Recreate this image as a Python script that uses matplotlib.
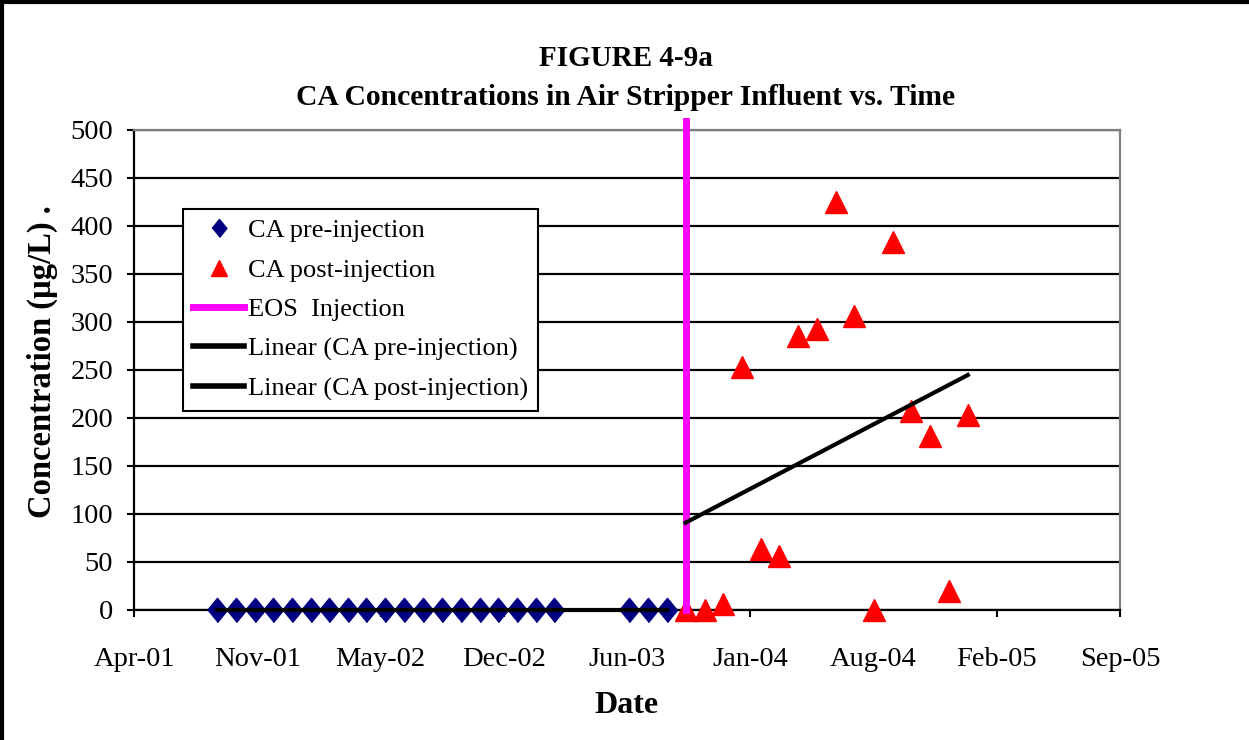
import matplotlib
matplotlib.use('Agg')
import matplotlib.pyplot as plt
import matplotlib.dates as mdates
from matplotlib.lines import Line2D
import numpy as np
import pandas as pd

plt.rcParams['font.family'] = ['Liberation Serif', 'DejaVu Serif']

# CA pre-injection samples (all non-detect)
pre_dates = ['2001-09-01', '2001-10-01', '2001-11-01', '2001-12-01',
             '2002-01-01', '2002-02-01', '2002-03-01', '2002-04-01',
             '2002-05-01', '2002-06-01', '2002-07-01', '2002-08-01',
             '2002-09-01', '2002-10-01', '2002-11-01', '2002-12-01',
             '2003-01-01', '2003-02-01', '2003-03-01',
             '2003-07-01', '2003-08-01', '2003-09-01']
pre_values = [0] * 22

# CA post-injection samples
post_dates = ['2003-10-01', '2003-11-01', '2003-12-01', '2004-01-01',
              '2004-02-01', '2004-03-01', '2004-04-01', '2004-05-01',
              '2004-06-01', '2004-07-01', '2004-08-01', '2004-09-01',
              '2004-10-01', '2004-11-01', '2004-12-01', '2005-01-01']
post_values = [0, 0, 6, 253, 63, 56, 285, 292, 425, 306, 0, 383, 207, 181, 20, 203]

eos_date = '2003-10-01'
eos_values = [0, 509]

x_start = '2001-04-19'   # excel 37000
tick_step_days = 200
n_ticks = 9
y_ticks = [0, 50, 100, 150, 200, 250, 300, 350, 400, 450, 500]

DIAMOND = [(-0.82, 0), (0, 1), (0.82, 0), (0, -1)]

pre_x = mdates.date2num(pd.to_datetime(pre_dates))
post_x = mdates.date2num(pd.to_datetime(post_dates))
eos_x = mdates.date2num(pd.to_datetime(eos_date))
x0 = mdates.date2num(pd.to_datetime(x_start))
xticks = x0 + np.arange(n_ticks) * tick_step_days

fig = plt.figure(figsize=(12.49, 7.4), dpi=100)
ax = fig.add_axes([0.10729, 0.17608, 0.78943, 0.64865])

# linear trendlines
p_pre = np.polyfit(pre_x, pre_values, 1)
p_post = np.polyfit(post_x, post_values, 1)
pre_fit_x = np.array([pre_x[0], pre_x[-1]])
post_fit_x = np.array([post_x[0], post_x[-1]])

ax.plot(pre_x, pre_values, linestyle='none', marker=DIAMOND,
        markersize=17.5, color='#000080', zorder=3, clip_on=False)
ax.plot(post_x, post_values, linestyle='none', marker='^', markersize=16,
        color='#FF0000', zorder=3, clip_on=False)
ax.plot([eos_x, eos_x], eos_values, color='#FF00FF', lw=5, zorder=4, clip_on=False)
ax.plot(pre_fit_x, np.polyval(p_pre, pre_fit_x), color='black', lw=3, zorder=5,
        clip_on=False)
ax.plot(post_fit_x, np.polyval(p_post, post_fit_x), color='black', lw=3, zorder=5)

ax.set_xlim(xticks[0], xticks[-1])
ax.set_ylim(0, 500)
ax.set_xticks(xticks)
ax.xaxis.set_major_formatter(mdates.DateFormatter('%b-%y'))
ax.set_yticks(y_ticks)

ax.set_axisbelow(True)
ax.yaxis.grid(True, color='black', lw=1.6)
ax.tick_params(axis='both', direction='out', length=5, width=1.5, labelsize=20.5,
               colors='black')
ax.tick_params(axis='x', pad=22)
ax.tick_params(axis='y', pad=10)
for s in ['left', 'bottom']:
    ax.spines[s].set_color('black')
    ax.spines[s].set_linewidth(1.6)
for s in ['top', 'right']:
    ax.spines[s].set_color('#808080')
    ax.spines[s].set_linewidth(1.6)

handles = [
    Line2D([], [], linestyle='none', marker=DIAMOND, markersize=13, color='#000080'),
    Line2D([], [], linestyle='none', marker='^', markersize=12, color='#FF0000'),
    Line2D([], [], color='#FF00FF', lw=5),
    Line2D([], [], color='black', lw=4),
    Line2D([], [], color='black', lw=4),
]
labels = ['CA pre-injection', 'CA post-injection', 'EOS  Injection',
          'Linear (CA pre-injection)', 'Linear (CA post-injection)']
leg = ax.legend(handles, labels, loc='upper left', bbox_to_anchor=(0.1465, 0.7176),
                bbox_transform=fig.transFigure, fontsize=19, frameon=True,
                fancybox=False, shadow=False, framealpha=1, edgecolor='black',
                handlelength=1.95, handletextpad=0.12, labelspacing=0.6,
                borderpad=0.38, borderaxespad=0)
leg.get_frame().set_linewidth(1.5)

fig.text(0.501, 0.9216, 'FIGURE 4-9a', ha='center', va='center',
         fontsize=21, fontweight='bold')
fig.text(0.501, 0.8689, 'CA Concentrations in Air Stripper Influent vs. Time',
         ha='center', va='center', fontsize=21.3, fontweight='bold')
fig.text(0.034, 0.511, 'Concentration (\u00b5g/L) .', rotation=90, ha='center',
         va='center', fontsize=23.5, fontweight='bold')
fig.text(0.502, 0.046, 'Date', ha='center', va='center', fontsize=23,
         fontweight='bold')

# outer frame (left and top edges visible)
fig.add_artist(Line2D([0.0016, 0.0016], [0, 0.997], transform=fig.transFigure,
                      color='black', lw=3))
fig.add_artist(Line2D([0.0016, 1], [0.997, 0.997], transform=fig.transFigure,
                      color='black', lw=3))

fig.savefig('out.png', dpi=100)
